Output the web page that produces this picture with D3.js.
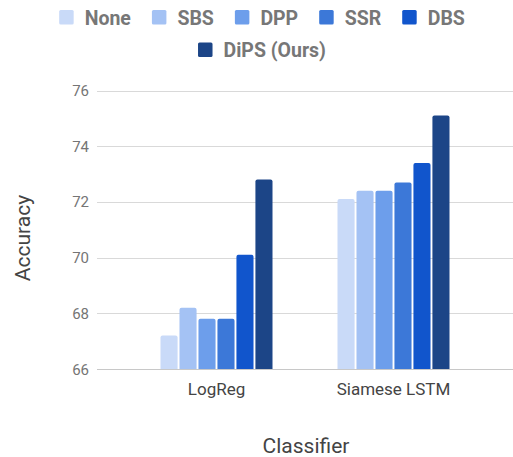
<!DOCTYPE html>
<html><head><meta charset="utf-8">
<script src="https://cdn.jsdelivr.net/npm/d3@7"></script>
<style>html,body{margin:0;padding:0;background:#fff;}svg{display:block;font-family:Roboto,sans-serif;}</style>
</head><body><svg id="c" width="513" height="457"></svg>
<script>
const categories = ["LogReg", "Siamese LSTM"];
const seriesNames = ["None", "SBS", "DPP", "SSR", "DBS", "DiPS (Ours)"];
const colors = ["#c9daf8", "#a4c2f4", "#6d9eeb", "#3c78d8", "#1155cc", "#1c4587"];
const valuesNone = [67.2, 72.1];
const valuesSBS = [68.2, 72.4];
const valuesDPP = [67.8, 72.4];
const valuesSSR = [67.8, 72.7];
const valuesDBS = [70.1, 73.4];
const valuesDiPS = [72.8, 75.1];
const yTicks = [66, 68, 70, 72, 74, 76];

const seriesValues = [valuesNone, valuesSBS, valuesDPP, valuesSSR, valuesDBS, valuesDiPS];
const svg = d3.select("#c");

const y = d3.scaleLinear().domain([66, 76]).range([369, 90.5]);
const x0 = d3.scaleBand().domain(categories).range([128, 482]).paddingInner(0).paddingOuter(0);
const groupW = 112;
const x1 = d3.scaleBand().domain(seriesNames).range([0, groupW]).paddingInner(0.1).paddingOuter(0);

// gridlines
svg.append("g").selectAll("line").data(yTicks).join("line")
  .attr("x1", 97).attr("x2", 513)
  .attr("y1", d => Math.round(y(d)) + 0.5).attr("y2", d => Math.round(y(d)) + 0.5)
  .attr("stroke", d => d === 66 ? "#c8c8c8" : "#d9d9d9").attr("stroke-width", 1);

// y tick labels
svg.append("g").selectAll("text").data(yTicks).join("text")
  .attr("x", 89).attr("y", d => y(d) + 5.5)
  .attr("text-anchor", "end").attr("font-size", 15).attr("fill", "#757575")
  .text(d => d);

// bars
function barPath(x, yTop, w, yBot, r) {
  return `M${x},${yBot}V${yTop + r}Q${x},${yTop} ${x + r},${yTop}H${x + w - r}Q${x + w},${yTop} ${x + w},${yTop + r}V${yBot}Z`;
}
const data = [];
categories.forEach((c, ci) => seriesNames.forEach((s, si) => data.push({c, s, v: seriesValues[si][ci], col: colors[si]})));
svg.append("g").selectAll("path").data(data).join("path")
  .attr("d", d => {
    const gx = x0(d.c) + x0.bandwidth() / 2 - groupW / 2;
    return barPath(gx + x1(d.s), y(d.v), x1.bandwidth(), y(66), 2);
  })
  .attr("fill", d => d.col);

// category labels
svg.append("g").selectAll("text").data(categories).join("text")
  .attr("x", d => x0(d) + x0.bandwidth() / 2).attr("y", 395)
  .attr("text-anchor", "middle").attr("font-size", 17).attr("fill", "#444")
  .text(d => d);

// axis titles
svg.append("text").attr("x", 306).attr("y", 453).attr("text-anchor", "middle")
  .attr("font-size", 21).attr("fill", "#444").text("Classifier");
svg.append("text").attr("transform", "translate(30,238) rotate(-90)").attr("text-anchor", "middle")
  .attr("font-size", 21).attr("fill", "#444").text("Accuracy");

// legend
const rows = [seriesNames.slice(0, 5), seriesNames.slice(5)];
const rowBase = [24.5, 57];
const center = 262;
const sw = 14.5, gapST = 11, gapItem = 21;
rows.forEach((row, ri) => {
  const g = svg.append("g");
  const items = row.map(name => {
    const t = g.append("text").attr("font-size", 19.5).attr("font-weight", "bold").attr("fill", "#777").text(name);
    return {name, t, w: t.node().getComputedTextLength()};
  });
  const total = items.reduce((a, it) => a + sw + gapST + it.w, 0) + gapItem * (items.length - 1);
  let cx = center - total / 2;
  items.forEach(it => {
    const si = seriesNames.indexOf(it.name);
    g.append("rect").attr("x", cx).attr("y", rowBase[ri] - 14.5).attr("width", sw).attr("height", sw)
      .attr("rx", 1.5).attr("fill", colors[si]);
    it.t.attr("x", cx + sw + gapST).attr("y", rowBase[ri]);
    cx += sw + gapST + it.w + gapItem;
  });
});
</script></body></html>
